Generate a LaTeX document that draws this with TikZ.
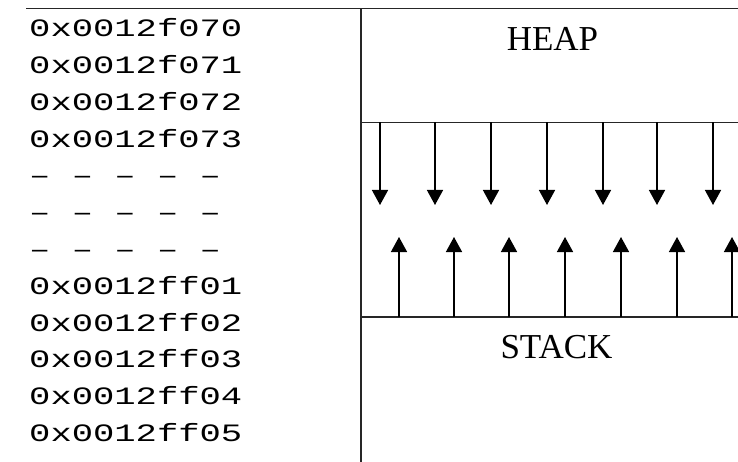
\documentclass[tikz,border=0pt]{standalone}
\usepackage{fontspec}
\setmainfont{Liberation Serif}
\newfontfamily\addrfont{Liberation Mono}
\usetikzlibrary{arrows.meta}
\tikzset{
  ruleline/.style={line width=1.5pt, black!85},
  growarrow/.style={line width=1.4pt, -{Triangle[width=16pt,length=15pt]}},
  addr/.style={anchor=base west, inner sep=0pt, font=\addrfont\fontsize{25}{25}\selectfont},
  regiontag/.style={inner sep=0pt, font=\fontsize{35}{35}\selectfont}
}
\newcommand{\wide}[1]{\scalebox{1.42}[1]{#1}}
\begin{document}
\begin{tikzpicture}[x=1pt,y=-1pt]
\useasboundingbox (0,0) rectangle (738,462);
\fill[white] (0,0) rectangle (738,462);
% frame lines
\coordinate (tl) at (26,8.5);
\coordinate (tr) at (738,8.5);
\coordinate (vt) at (361,8.5);
\coordinate (vb) at (361,462);
\coordinate (hl) at (361,122.5);
\coordinate (hr) at (738,122.5);
\coordinate (sl) at (361,317);
\coordinate (sr) at (738,317);
\draw[ruleline] (tl) -- (tr);
\draw[ruleline] (vt) -- (vb);
\draw[ruleline] (hl) -- (hr);
\draw[ruleline] (sl) -- (sr);
% addresses
\foreach \t [count=\i from 0] in {0x0012f070,0x0012f071,0x0012f072,0x0012f073,– – – – –,– – – – –,– – – – –,0x0012ff01,0x0012ff02,0x0012ff03,0x0012ff04,0x0012ff05}{
  \node[addr] (a\i) at (29,36.7+36.8*\i) {\wide{\t}};
}
% labels
\node[regiontag] (heap) at (552.5,39) {HEAP};
\node[regiontag] (stack) at (556.5,347.5) {STACK};
% heap arrows (down)
\foreach \x [count=\k] in {380,435,491,547,603,657,713}{
  \coordinate (hs\k) at (\x,122.5);
  \coordinate (he\k) at (\x,205);
  \draw[growarrow] (hs\k) -- (he\k);
}
% stack arrows (up)
\foreach \x [count=\k] in {399,454,509,565,621,677,732}{
  \coordinate (ss\k) at (\x,317);
  \coordinate (se\k) at (\x,237);
  \draw[growarrow] (ss\k) -- (se\k);
}
\end{tikzpicture}
\end{document}
